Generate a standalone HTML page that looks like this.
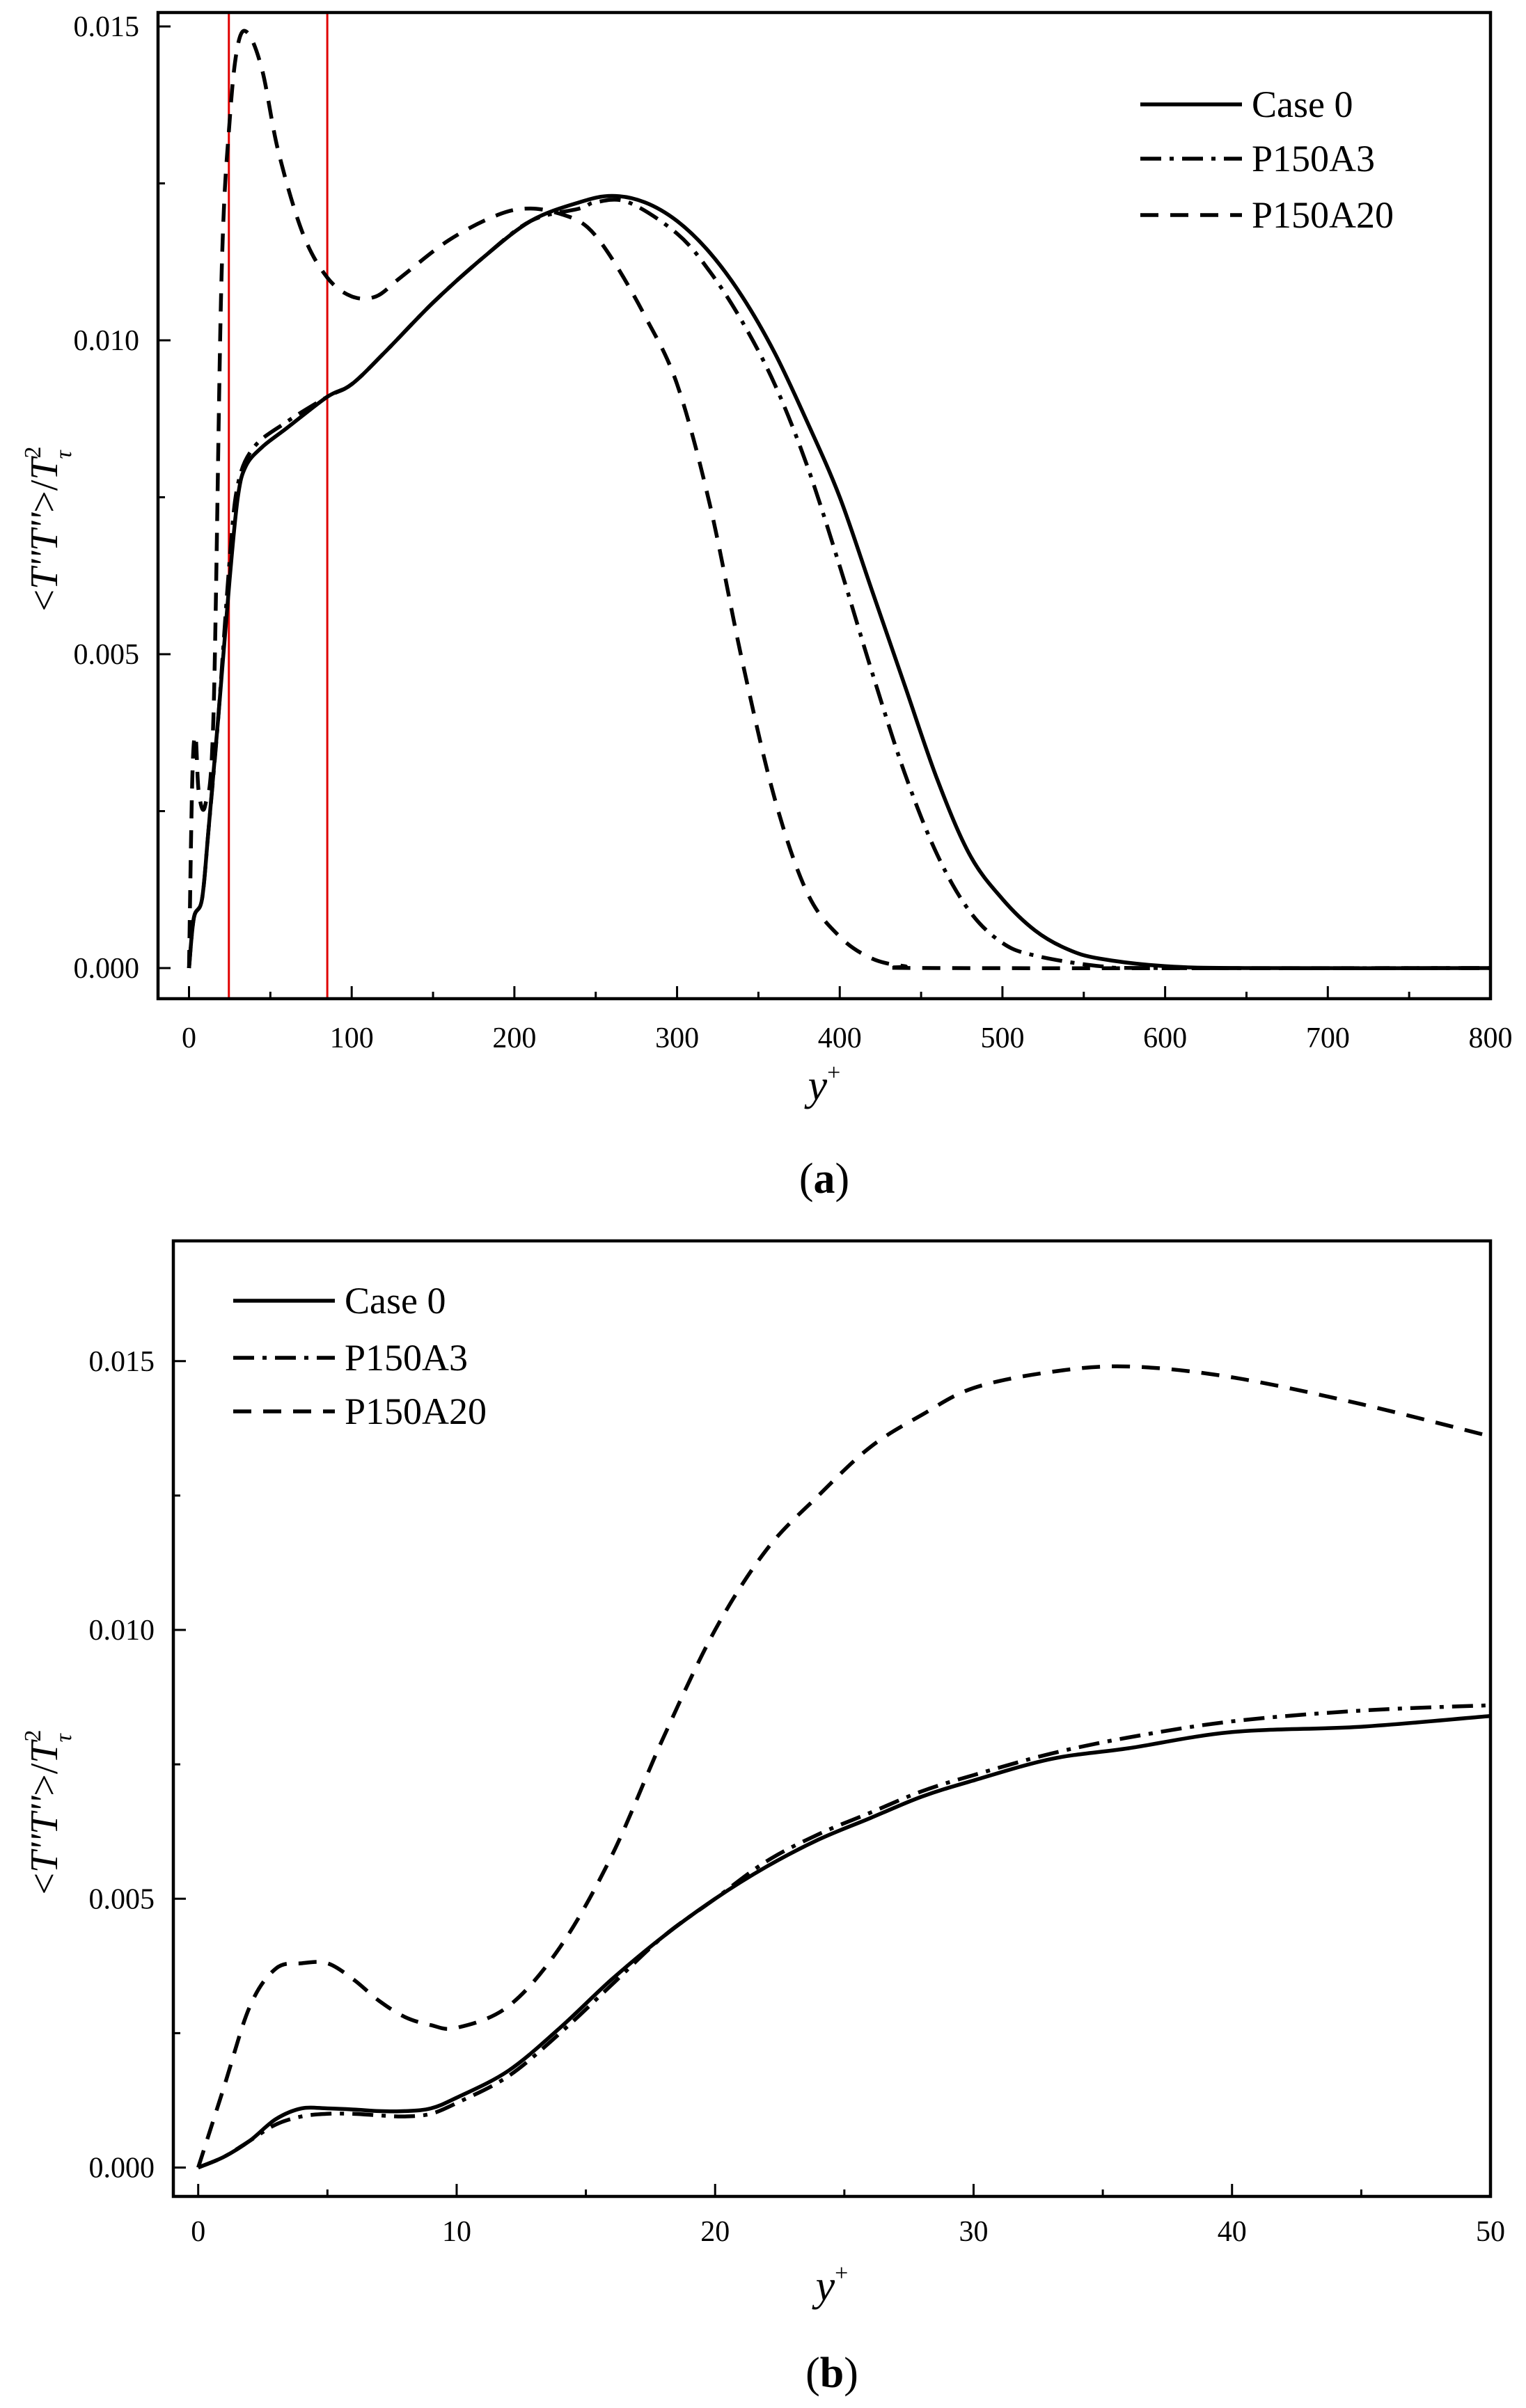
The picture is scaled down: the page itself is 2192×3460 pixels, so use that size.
<!DOCTYPE html>
<html><head><meta charset="utf-8"><style>
html,body{margin:0;padding:0;background:#fff;}
svg{display:block;font-family:"Liberation Serif",serif;}
</style></head><body>
<svg id="fig" width="2192" height="3460" viewBox="0 0 2192 3460" xmlns="http://www.w3.org/2000/svg"></svg>
<script>
// Panel (a) data
const aCase0X=[0,3,8,12,18,25,30,35,45,60,85,100,120,150,180,210,240,260,280,300,320,340,360,380,400,420,440,460,480,500,520,540,560,600,650,800];
const aCase0Y=[0,0.0008,0.0011,0.0022,0.004,0.0062,0.0075,0.008,0.0083,0.0086,0.0091,0.0093,0.0098,0.0106,0.0113,0.0119,0.0122,0.0123,0.0122,0.0119,0.0114,0.0107,0.0098,0.0087,0.0075,0.006,0.0045,0.003,0.0018,0.0011,0.0006,0.0003,0.00015,0.00003,0,0];
const aA3X=[0,3,8,12,18,25,30,40,60,85,100,120,150,180,210,240,250,270,300,320,340,360,380,400,420,440,460,480,500,520,560,600,800];
const aA3Y=[0,0.0008,0.0011,0.0022,0.004,0.0065,0.0077,0.0083,0.0087,0.0091,0.0093,0.0098,0.0106,0.0113,0.0119,0.0121,0.0122,0.0122,0.0117,0.0111,0.0103,0.0093,0.008,0.0064,0.0047,0.0031,0.0018,0.0009,0.0004,0.0002,0.00003,0,0];
const aA20X=[0,2,4,6,10,15,20,25,30,36,45,55,70,85,100,115,130,160,190,210,230,245,260,280,300,320,340,360,380,400,420,440,460,800];
const aA20Y=[0,0.003,0.0037,0.0028,0.0026,0.004,0.011,0.0135,0.0147,0.0149,0.0143,0.013,0.0117,0.011,0.0107,0.0107,0.011,0.0116,0.012,0.0121,0.012,0.0118,0.0113,0.0104,0.0093,0.0074,0.0049,0.0027,0.0012,0.0005,0.00015,0.00003,0,0];
const aXTicks=[0,100,200,300,400,500,600,700,800];
const aYTicks=[0,0.005,0.010,0.015];
const aYLabels=["0.000","0.005","0.010","0.015"];
// Panel (b) data
const bX=[0,1,2,3,4,5,6,7,8,9,10,12,14,16,18,20,22,24,26,28,30,33,36,40,45,50];
const bCase0Y=[0,0.0002,0.0005,0.0009,0.0011,0.0011,0.00108,0.00105,0.00105,0.0011,0.0013,0.0018,0.0026,0.0035,0.0043,0.005,0.0056,0.0061,0.0065,0.0069,0.0072,0.0076,0.0078,0.0081,0.0082,0.0084];
const bA3Y=[0,0.0002,0.0005,0.0008,0.00095,0.001,0.001,0.00097,0.00095,0.001,0.0012,0.0017,0.0025,0.0034,0.0043,0.005,0.0057,0.0062,0.0066,0.007,0.0073,0.0077,0.008,0.0083,0.0085,0.0086];
const bA20Y=[0,0.0015,0.003,0.0037,0.0038,0.0038,0.0035,0.0031,0.0028,0.00265,0.0026,0.003,0.0041,0.0058,0.008,0.01,0.0115,0.0125,0.0134,0.014,0.0145,0.0148,0.0149,0.0147,0.0142,0.0136];
const bXTicks=[0,10,20,30,40,50];
const bYTicks=[0,0.005,0.010,0.015];
const bYLabels=["0.000","0.005","0.010","0.015"];

const NS="http://www.w3.org/2000/svg";
const svg=document.getElementById('fig');
function mk(tag,attrs,parent,text){const e=document.createElementNS(NS,tag);for(const k in attrs)e.setAttribute(k,attrs[k]);if(text!==undefined)e.textContent=text;(parent||svg).appendChild(e);return e;}
const styles={solid:"",dashdot:"30,12,6,12",dash:"26,17"};

function smoothPath(pts){
  let d='M'+pts[0][0].toFixed(1)+','+pts[0][1].toFixed(1);
  for(let i=0;i<pts.length-1;i++){
    const p0=pts[Math.max(0,i-1)],p1=pts[i],p2=pts[i+1],p3=pts[Math.min(pts.length-1,i+2)];
    const c1x=p1[0]+(p2[0]-p0[0])/6,c1y=p1[1]+(p2[1]-p0[1])/6;
    const c2x=p2[0]-(p3[0]-p1[0])/6,c2y=p2[1]-(p3[1]-p1[1])/6;
    d+='C'+c1x.toFixed(1)+','+c1y.toFixed(1)+' '+c2x.toFixed(1)+','+c2y.toFixed(1)+' '+p2[0].toFixed(1)+','+p2[1].toFixed(1);
  }
  return d;
}

function panel(p){
  const g=mk('g',{});
  
  
  const sx=v=>p.x0px+(v-p.xmin)*(p.xmaxpx-p.x0px)/(p.xmax-p.xmin);
  const sy=v=>p.y0px-v*(p.y0px-p.yTopPx)/p.yTopVal;
  for(let v=p.xmin;v<=p.xmax+1e-9;v+=p.xMinor){
    const major=Math.abs(v/p.xMajor-Math.round(v/p.xMajor))<1e-6;
    const t=mk('line',{x1:sx(v),x2:sx(v),y1:p.bottom,y2:p.bottom-(major?18:10),stroke:'#000','stroke-width':3},g);
    
  }
  for(let v=0;v<=p.yTopVal*1.2;v+=0.0025){
    const y=sy(v); if(y<p.top) break;
    const major=Math.abs(v/0.005-Math.round(v/0.005))<1e-6;
    const t=mk('line',{x1:p.left,x2:p.left+(major?18:10),y1:y,y2:y,stroke:'#000','stroke-width':3},g);
    
  }
  p.xTicks.forEach(v=>{const t=mk('text',{x:sx(v),y:p.xLabelY,'font-size':42,'text-anchor':'middle'},g,String(v));
    });
  p.yTicks.forEach((v,i)=>{const t=mk('text',{x:p.yLabelX,y:sy(v)+14,'font-size':42,'text-anchor':'end'},g,p.yLabels[i]);
    });
  (p.redX||[]).forEach(v=>{const l=mk('line',{x1:sx(v),x2:sx(v),y1:p.top,y2:p.bottom,stroke:'#e00000','stroke-width':3},g);
    });
  p.series.forEach(s=>{
    const pts=s.x.map((x,i)=>[sx(x),sy(s.y[i])]);
    const path=mk('path',{d:smoothPath(pts),fill:'none',stroke:'#000','stroke-width':5.5,'stroke-dasharray':styles[s.style]||'none','stroke-linejoin':'round'},g);
    
  });
  const f=mk('rect',{x:p.left,y:p.top,width:p.right-p.left,height:p.bottom-p.top,fill:'none',stroke:'#000','stroke-width':4.5},g);
  
  p.series.forEach((s,i)=>{
    const y=p.legY[i];
    const l=mk('line',{x1:p.legX1,x2:p.legX2,y1:y,y2:y,stroke:'#000','stroke-width':5.5,'stroke-dasharray':styles[s.style]||'none'},g);
    
    const t=mk('text',{x:p.legX2+14,y:y+18,'font-size':54},g,s.label);
    
  });
  const xt=mk('text',{x:(p.left+p.right)/2,y:p.xTitleY,'font-size':62,'font-style':'italic','text-anchor':'middle'},g);
  
  xt.innerHTML='y<tspan dy="-28" font-size="34" font-style="normal">+</tspan>';
  const yt=mk('text',{transform:`translate(${p.yTitleX},${p.yTitleY}) rotate(-90)`,'font-size':56,'text-anchor':'middle'},g);
  
  yt.innerHTML='&lt;<tspan font-style="italic">T\'\'T\'\'</tspan>&gt;/<tspan font-style="italic">T</tspan><tspan dy="-24" font-size="34">2</tspan><tspan dy="44" dx="-18" font-size="34" font-style="italic">τ</tspan>';
  const cap=mk('text',{x:(p.left+p.right)/2,y:p.capY,'font-size':62,'text-anchor':'middle'},g);
  
  cap.innerHTML='(<tspan font-weight="bold">'+p.cap+'</tspan>)';
}

panel({name:'panel-a',left:227,right:2141,top:18,bottom:1435,xmin:0,xmax:800,x0px:271.5,xmaxpx:2141,
  y0px:1391,yTopPx:38,yTopVal:0.015,xMinor:50,xMajor:100,xTicks:aXTicks,yTicks:aYTicks,yLabels:aYLabels,
  xLabelY:1505,yLabelX:200,redX:[24.5,85],
  series:[{name:'case0-line',label:'Case 0',style:'solid',x:aCase0X,y:aCase0Y},
          {name:'p150a3-line',label:'P150A3',style:'dashdot',x:aA3X,y:aA3Y},
          {name:'p150a20-line',label:'P150A20',style:'dash',x:aA20X,y:aA20Y}],
  legX1:1638,legX2:1784,legY:[150,228,309],xTitleY:1580,yTitleX:82,yTitleY:760,capY:1714,cap:'a'});

panel({name:'panel-b',left:249,right:2141,top:1783,bottom:3156,xmin:0,xmax:50,x0px:284.7,xmaxpx:2141,
  y0px:3114.5,yTopPx:1955.8,yTopVal:0.015,xMinor:5,xMajor:10,xTicks:bXTicks,yTicks:bYTicks,yLabels:bYLabels,
  xLabelY:3220,yLabelX:222,
  series:[{name:'case0-line',label:'Case 0',style:'solid',x:bX,y:bCase0Y},
          {name:'p150a3-line',label:'P150A3',style:'dashdot',x:bX,y:bA3Y},
          {name:'p150a20-line',label:'P150A20',style:'dash',x:bX,y:bA20Y}],
  legX1:335,legX2:481,legY:[1869,1951,2028],xTitleY:3305,yTitleX:82,yTitleY:2604,capY:3430,cap:'b'});
</script>
</body></html>
